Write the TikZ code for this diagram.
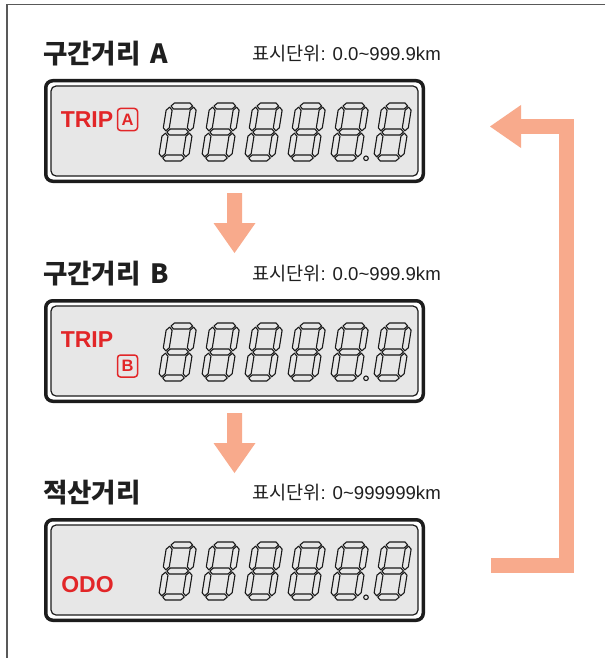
\documentclass[tikz,border=0pt]{standalone}
\usepackage{fontspec}
\newfontfamily\kr{Noto Sans CJK KR}
\newfontfamily\lab{Liberation Sans}
\usetikzlibrary{calc}
\definecolor{lcd}{RGB}{231,231,231}
\definecolor{salmon}{RGB}{248,170,140}
\definecolor{lcdred}{RGB}{226,38,40}
\definecolor{edge}{RGB}{28,28,28}
\newcommand{\lcdH}[3]{\draw[seg] (#1,#3) -- ++(3,-3) -- (#2-3,#3-3) -- (#2,#3) -- (#2-3,#3+3) -- (#1+3,#3+3) -- cycle;}
\newcommand{\lcdV}[3]{\draw[seg] (#1,#2) -- (#1-3,#2-3) -- (#1-3,#3+3) -- (#1,#3) -- (#1+3,#3+3) -- (#1+3,#2-3) -- cycle;}
\newcommand{\tld}{\char"7E\relax}
\begin{document}
\begin{tikzpicture}[x=1pt,y=-1pt,
  frameline/.style={draw=black!65,line width=1.3pt},
  dispbox/.style={draw=edge,line width=3.5pt,rounded corners=7pt,fill=white,
    minimum width=377.5pt,minimum height=100.5pt,inner sep=0pt},
  innerbox/.style={draw=edge,line width=1.2pt,rounded corners=5pt,fill=lcd},
  seg/.style={fill=lcd,draw=black!90,line width=1.1pt,line join=round},
  titletxt/.style={font=\kr\bfseries\fontsize{26.5}{30}\selectfont,inner sep=0pt,anchor=west,text=black!88},
  rangetxt/.style={font=\lab\fontsize{18.6}{20}\selectfont,inner sep=0pt,anchor=west,text=black!88},
  lbltxt/.style={font=\lab\bfseries\fontsize{23}{24}\selectfont,text=lcdred,inner sep=0pt},
  tagbox/.style={draw=lcdred,line width=1.5pt,rounded corners=3pt,text=lcdred,
    font=\lab\bfseries\fontsize{16.5}{16}\selectfont,minimum width=20pt,minimum height=22pt,inner sep=0pt},
  blockarrow/.style={fill=salmon,draw=none},
  retline/.style={draw=salmon,line width=15pt,line join=miter},
  pics/lcddigit/.style={code={
    \begin{scope}[xslant=0.16]
      \lcdH{4.2}{25.8}{-55}
      \lcdH{4.2}{25.8}{-29}
      \lcdH{4.2}{25.8}{-3}
      \lcdV{3}{-4.2}{-27.8}
      \lcdV{27}{-4.2}{-27.8}
      \lcdV{3}{-30.2}{-53.8}
      \lcdV{27}{-30.2}{-53.8}
    \end{scope}
  }}
]
\useasboundingbox (0,0) rectangle (605,658);
\fill[white] (0,0) rectangle (605,658);
\draw[frameline] (605,4.5) -- (7,4.5) -- (7,658);

% titles
\node[titletxt] (t1) at (43,54) {구간거리\hspace{4pt} A};
\node[rangetxt] (r1) at (252,53.5) {{\kr 표시단위}: 0.0\tld 999.9km};
\node[titletxt] (t2) at (43,274) {구간거리\hspace{4pt} B};
\node[rangetxt] (r2) at (252,273.5) {{\kr 표시단위}: 0.0\tld 999.9km};
\node[titletxt] (t3) at (43,493) {적산거리};
\node[rangetxt] (r3) at (252,492.5) {{\kr 표시단위}: 0\tld 999999km};

% displays
\foreach \n/\y in {d1/131,d2/351,d3/570}{
  \node[dispbox] (\n) at (234.5,\y) {};
  \draw[innerbox] ($(\n.north west)+(7,7)$) rectangle ($(\n.south east)+(-7,-7)$);
  \foreach \i in {0,...,5}{
    \pic at ($(\n.center)+(-76.5+43*\i,30)$) {lcddigit};
  }
  \draw[seg] ($(\n.center)+(131.5,27.3)$) circle (2.3);
}

% labels
\node[lbltxt] (trip1) at ($(d1.center)+(-147.5,-11)$) {TRIP};
\node[tagbox] (ta) at ($(d1.center)+(-107,-11.5)$) {A};
\node[lbltxt] (trip2) at ($(d2.center)+(-147.5,-11)$) {TRIP};
\node[tagbox] (tb) at ($(d2.center)+(-107,15)$) {B};
\node[lbltxt] (odo) at ($(d3.center)+(-147,15)$) {ODO};

% down arrows
\foreach \a in {d1,d2}{
  \path[blockarrow] ($(\a.south)+(-7.5,10)$) -- ($(\a.south)+(7.5,10)$) -- ($(\a.south)+(7.5,40)$)
    -- ($(\a.south)+(21,40)$) -- ($(\a.south)+(0,70)$) -- ($(\a.south)+(-21,40)$)
    -- ($(\a.south)+(-7.5,40)$) -- cycle;
}

% return arrow
\coordinate (rs) at ($(d3.east)+(66,-5)$);
\coordinate (rc) at ($(d1.east)+(141.5,-4.5)$);
\coordinate (rb) at ($(d1.east)+(95,-4.5)$);
\coordinate (rtip) at ($(d1.east)+(65,-4.5)$);
\draw[retline] (rs) -| (rc) -- (rb);
\path[blockarrow] ($(rb)+(1,-21.5)$) -- (rtip) -- ($(rb)+(1,21.5)$) -- cycle;
\end{tikzpicture}
\end{document}
